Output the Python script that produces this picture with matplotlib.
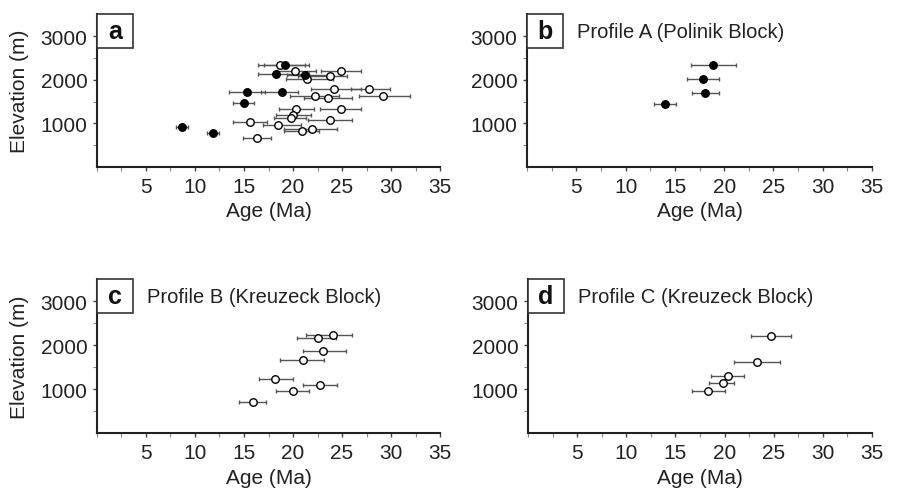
import matplotlib
matplotlib.use("Agg")
import matplotlib.pyplot as plt
from matplotlib.patches import Rectangle
from matplotlib.ticker import MultipleLocator, FixedLocator

plt.rcParams['font.family'] = ['Liberation Sans', 'DejaVu Sans']

# Panel a: filled (age, elevation, err_lo, err_hi)
a_fill_age = [19.2, 18.3, 21.2, 15.3, 18.9, 14.95, 8.7, 11.8]
a_fill_elev = [2330, 2140, 2100, 1710, 1710, 1460, 920, 790]
a_fill_lo = [17.0, 16.4, 19.4, 13.5, 16.7, 13.9, 8.1, 11.2]
a_fill_hi = [21.2, 21.6, 23.8, 17.1, 20.5, 16.0, 9.3, 12.4]

a_open_age = [18.7, 20.2, 24.9, 23.8, 21.4, 24.2, 27.8, 22.2, 23.6, 29.2,
              20.3, 24.85, 20.0, 19.8, 15.6, 23.8, 18.5, 21.9, 20.9, 16.3]
a_open_elev = [2330, 2210, 2190, 2090, 2010, 1795, 1800, 1620, 1585, 1620,
               1320, 1330, 1205, 1130, 1040, 1075, 960, 880, 825, 675]
a_open_lo = [16.4, 18.4, 22.9, 20.5, 19.3, 21.8, 25.9, 19.7, 21.1, 26.7,
             18.6, 22.8, 18.3, 18.1, 13.9, 21.5, 16.9, 19.1, 19.1, 14.9]
a_open_hi = [21.6, 22.3, 26.95, 25.5, 24.1, 26.9, 29.9, 24.7, 26.0, 31.9,
             22.1, 26.9, 21.8, 21.3, 17.3, 26.0, 20.8, 24.5, 22.7, 17.8]

# Panel b: Profile A (filled)
b_age = [18.9, 17.9, 18.1, 14.0]
b_elev = [2340, 2015, 1690, 1435]
b_lo = [16.6, 16.2, 16.7, 12.9]
b_hi = [21.2, 19.5, 19.45, 15.1]

# Panel c: Profile B (open)
c_age = [24.1, 22.5, 23.1, 21.0, 18.2, 22.8, 20.0, 15.9]
c_elev = [2230, 2160, 1865, 1660, 1230, 1100, 955, 720]
c_lo = [21.3, 20.4, 21.0, 18.7, 16.5, 21.0, 18.3, 14.5]
c_hi = [26.0, 24.4, 25.4, 23.2, 20.0, 24.45, 21.6, 17.2]

# Panel d: Profile C (open)
d_age = [24.75, 23.3, 20.3, 19.8, 18.3]
d_elev = [2210, 1620, 1290, 1135, 960]
d_lo = [22.7, 21.0, 18.6, 18.4, 16.7]
d_hi = [26.8, 25.6, 22.0, 21.0, 20.0]

panel_letters = ['a', 'b', 'c', 'd']
panel_titles = ['', 'Profile A (Polinik Block)', 'Profile B (Kreuzeck Block)', 'Profile C (Kreuzeck Block)']
x_ticks = [5, 10, 15, 20, 25, 30, 35]
y_ticks = [1000, 2000, 3000]

fig = plt.figure(figsize=(8.98, 4.89), dpi=100)
pos = [[0.108, 0.656, 0.382, 0.313],
       [0.587, 0.656, 0.384, 0.313],
       [0.108, 0.112, 0.382, 0.315],
       [0.588, 0.112, 0.383, 0.315]]
axes = [fig.add_axes(p) for p in pos]

ecol = '#555555'


def draw(ax, age, elev, lo, hi, filled):
    xerr = [[a - l for a, l in zip(age, lo)], [h - a for a, h in zip(age, hi)]]
    ax.errorbar(age, elev, xerr=xerr, fmt='none', ecolor=ecol, elinewidth=1.0,
                capsize=1.5, capthick=1.0, zorder=2)
    ax.plot(age, elev, 'o', ms=5.4, mfc='black' if filled else 'white',
            mec='black', mew=1.0, zorder=3, linestyle='none')


draw(axes[0], a_open_age, a_open_elev, a_open_lo, a_open_hi, False)
draw(axes[0], a_fill_age, a_fill_elev, a_fill_lo, a_fill_hi, True)
draw(axes[1], b_age, b_elev, b_lo, b_hi, True)
draw(axes[2], c_age, c_elev, c_lo, c_hi, False)
draw(axes[3], d_age, d_elev, d_lo, d_hi, False)

for i, ax in enumerate(axes):
    ax.set_xlim(0, 35)
    ax.set_ylim(0, 3500)
    ax.spines['top'].set_visible(False)
    ax.spines['right'].set_visible(False)
    for s in ['left', 'bottom']:
        ax.spines[s].set_linewidth(1.5)
        ax.spines[s].set_color('#222222')
    ax.xaxis.set_major_locator(FixedLocator(x_ticks))
    ax.xaxis.set_minor_locator(MultipleLocator(2.5))
    ax.yaxis.set_major_locator(FixedLocator(y_ticks))
    ax.yaxis.set_minor_locator(FixedLocator([500, 1500, 2500]))
    ax.tick_params(axis='both', which='major', labelsize=15, length=3, width=1.0,
                   color='#444444', labelcolor='#222222', pad=4)
    ax.tick_params(axis='both', which='minor', length=3, width=0.8, color='#888888')
    ax.set_xlabel('Age (Ma)', fontsize=15, color='#222222', labelpad=4)
    if i in (0, 2):
        ax.set_ylabel('Elevation (m)', fontsize=15, color='#222222', labelpad=8)
    # letter box
    ax.add_patch(Rectangle((0, 0.78), 0.105, 0.22, transform=ax.transAxes,
                           facecolor='white', edgecolor='#333333', lw=1.2,
                           clip_on=False, zorder=5))
    ax.text(0.0525, 0.89, panel_letters[i], transform=ax.transAxes, ha='center',
            va='center', fontsize=18, fontweight='bold', color='#111111', zorder=6)
    if panel_titles[i]:
        ax.text(0.145, 0.885, panel_titles[i], transform=ax.transAxes, ha='left',
                va='center', fontsize=14.5, color='#222222')

fig.savefig('out.png', dpi=100)
